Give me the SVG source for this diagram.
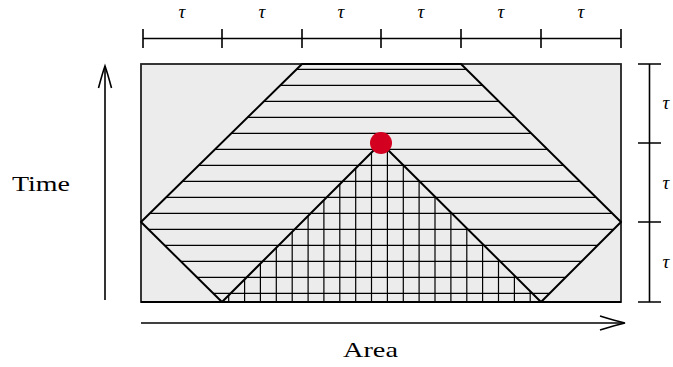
<svg xmlns="http://www.w3.org/2000/svg" width="673" height="367" viewBox="0 0 673 367">
<style>
.hatch{stroke:#000;stroke-width:1.2;fill:none}
.thick{stroke:#000;stroke-width:2;fill:none;stroke-linejoin:round}
.axis{stroke:#000;stroke-width:1.6;fill:none}
.tau{font-family:"Liberation Serif",serif;font-style:italic;font-size:19px;fill:#000;text-anchor:middle}
.lbl{font-family:"Liberation Serif",serif;font-size:21px;fill:#000}
</style>
<defs>
<clipPath id="hexClip"><polygon points="141,222 302,64 461,64 621,222 541,302 222,302"/></clipPath>
<clipPath id="triClip"><polygon points="222,302 381,143 541,302"/></clipPath>
</defs>
<g id="area-box">
<rect x="141" y="64" width="480" height="238" fill="#ececec" stroke="#222" stroke-width="1.8"/>
</g>
<g id="hatch-horizontal" clip-path="url(#hexClip)">
<path class="hatch" d="M141 69.3H621M141 85.3H621M141 101.3H621M141 117.3H621M141 133.3H621M141 149.3H621M141 165.3H621M141 181.3H621M141 197.3H621M141 213.3H621M141 229.3H621M141 245.3H621M141 261.3H621M141 277.3H621M141 293.3H621"/>
</g>
<g id="hatch-vertical" clip-path="url(#triClip)">
<path class="hatch" d="M228.7 140V302M244.6 140V302M260.4 140V302M276.3 140V302M292.2 140V302M308.1 140V302M323.9 140V302M339.8 140V302M355.7 140V302M371.5 140V302M387.4 140V302M403.3 140V302M419.1 140V302M435 140V302M450.9 140V302M466.8 140V302M482.6 140V302M498.5 140V302M514.4 140V302M530.2 140V302"/>
</g>
<g id="light-cone">
<polygon class="thick" points="141,222 302,64 461,64 621,222 541,302 222,302"/>
<polyline class="thick" points="222,302 381,143 541,302"/>
<line x1="141" y1="302" x2="621" y2="302" stroke="#000" stroke-width="2"/>
</g>
<g id="event">
<circle cx="381" cy="143" r="11" fill="#d4001f"/>
</g>
<g id="connectors">
<path class="axis" d="M143 38.5H621M143 29V48M222 29V48M302 29V48M381 29V48M461 29V48M541 29V48M621 29V48"/>
<path class="axis" d="M649.5 64V302M638 64H661M638 143H661M638 222H661M638 302H661"/>
<path class="axis" d="M105 300V66"/>
<path class="axis" d="M98.5 88Q102.5 73 105 66Q107.5 73 111.5 88"/>
<path class="axis" d="M141 323H624"/>
<path class="axis" d="M600 316Q616 321 625 323Q616 325 600 330"/>
</g>
<g id="labels">
<text class="tau" x="182" y="17.5">τ</text>
<text class="tau" x="262" y="17.5">τ</text>
<text class="tau" x="341" y="17.5">τ</text>
<text class="tau" x="421" y="17.5">τ</text>
<text class="tau" x="501" y="17.5">τ</text>
<text class="tau" x="581" y="17.5">τ</text>
<text class="tau" x="666" y="109">τ</text>
<text class="tau" x="666" y="188.5">τ</text>
<text class="tau" x="666" y="268">τ</text>
<text class="lbl" x="12" y="191" textLength="58" lengthAdjust="spacingAndGlyphs">Time</text>
<text class="lbl" x="343" y="357" textLength="55" lengthAdjust="spacingAndGlyphs">Area</text>
</g>
</svg>
